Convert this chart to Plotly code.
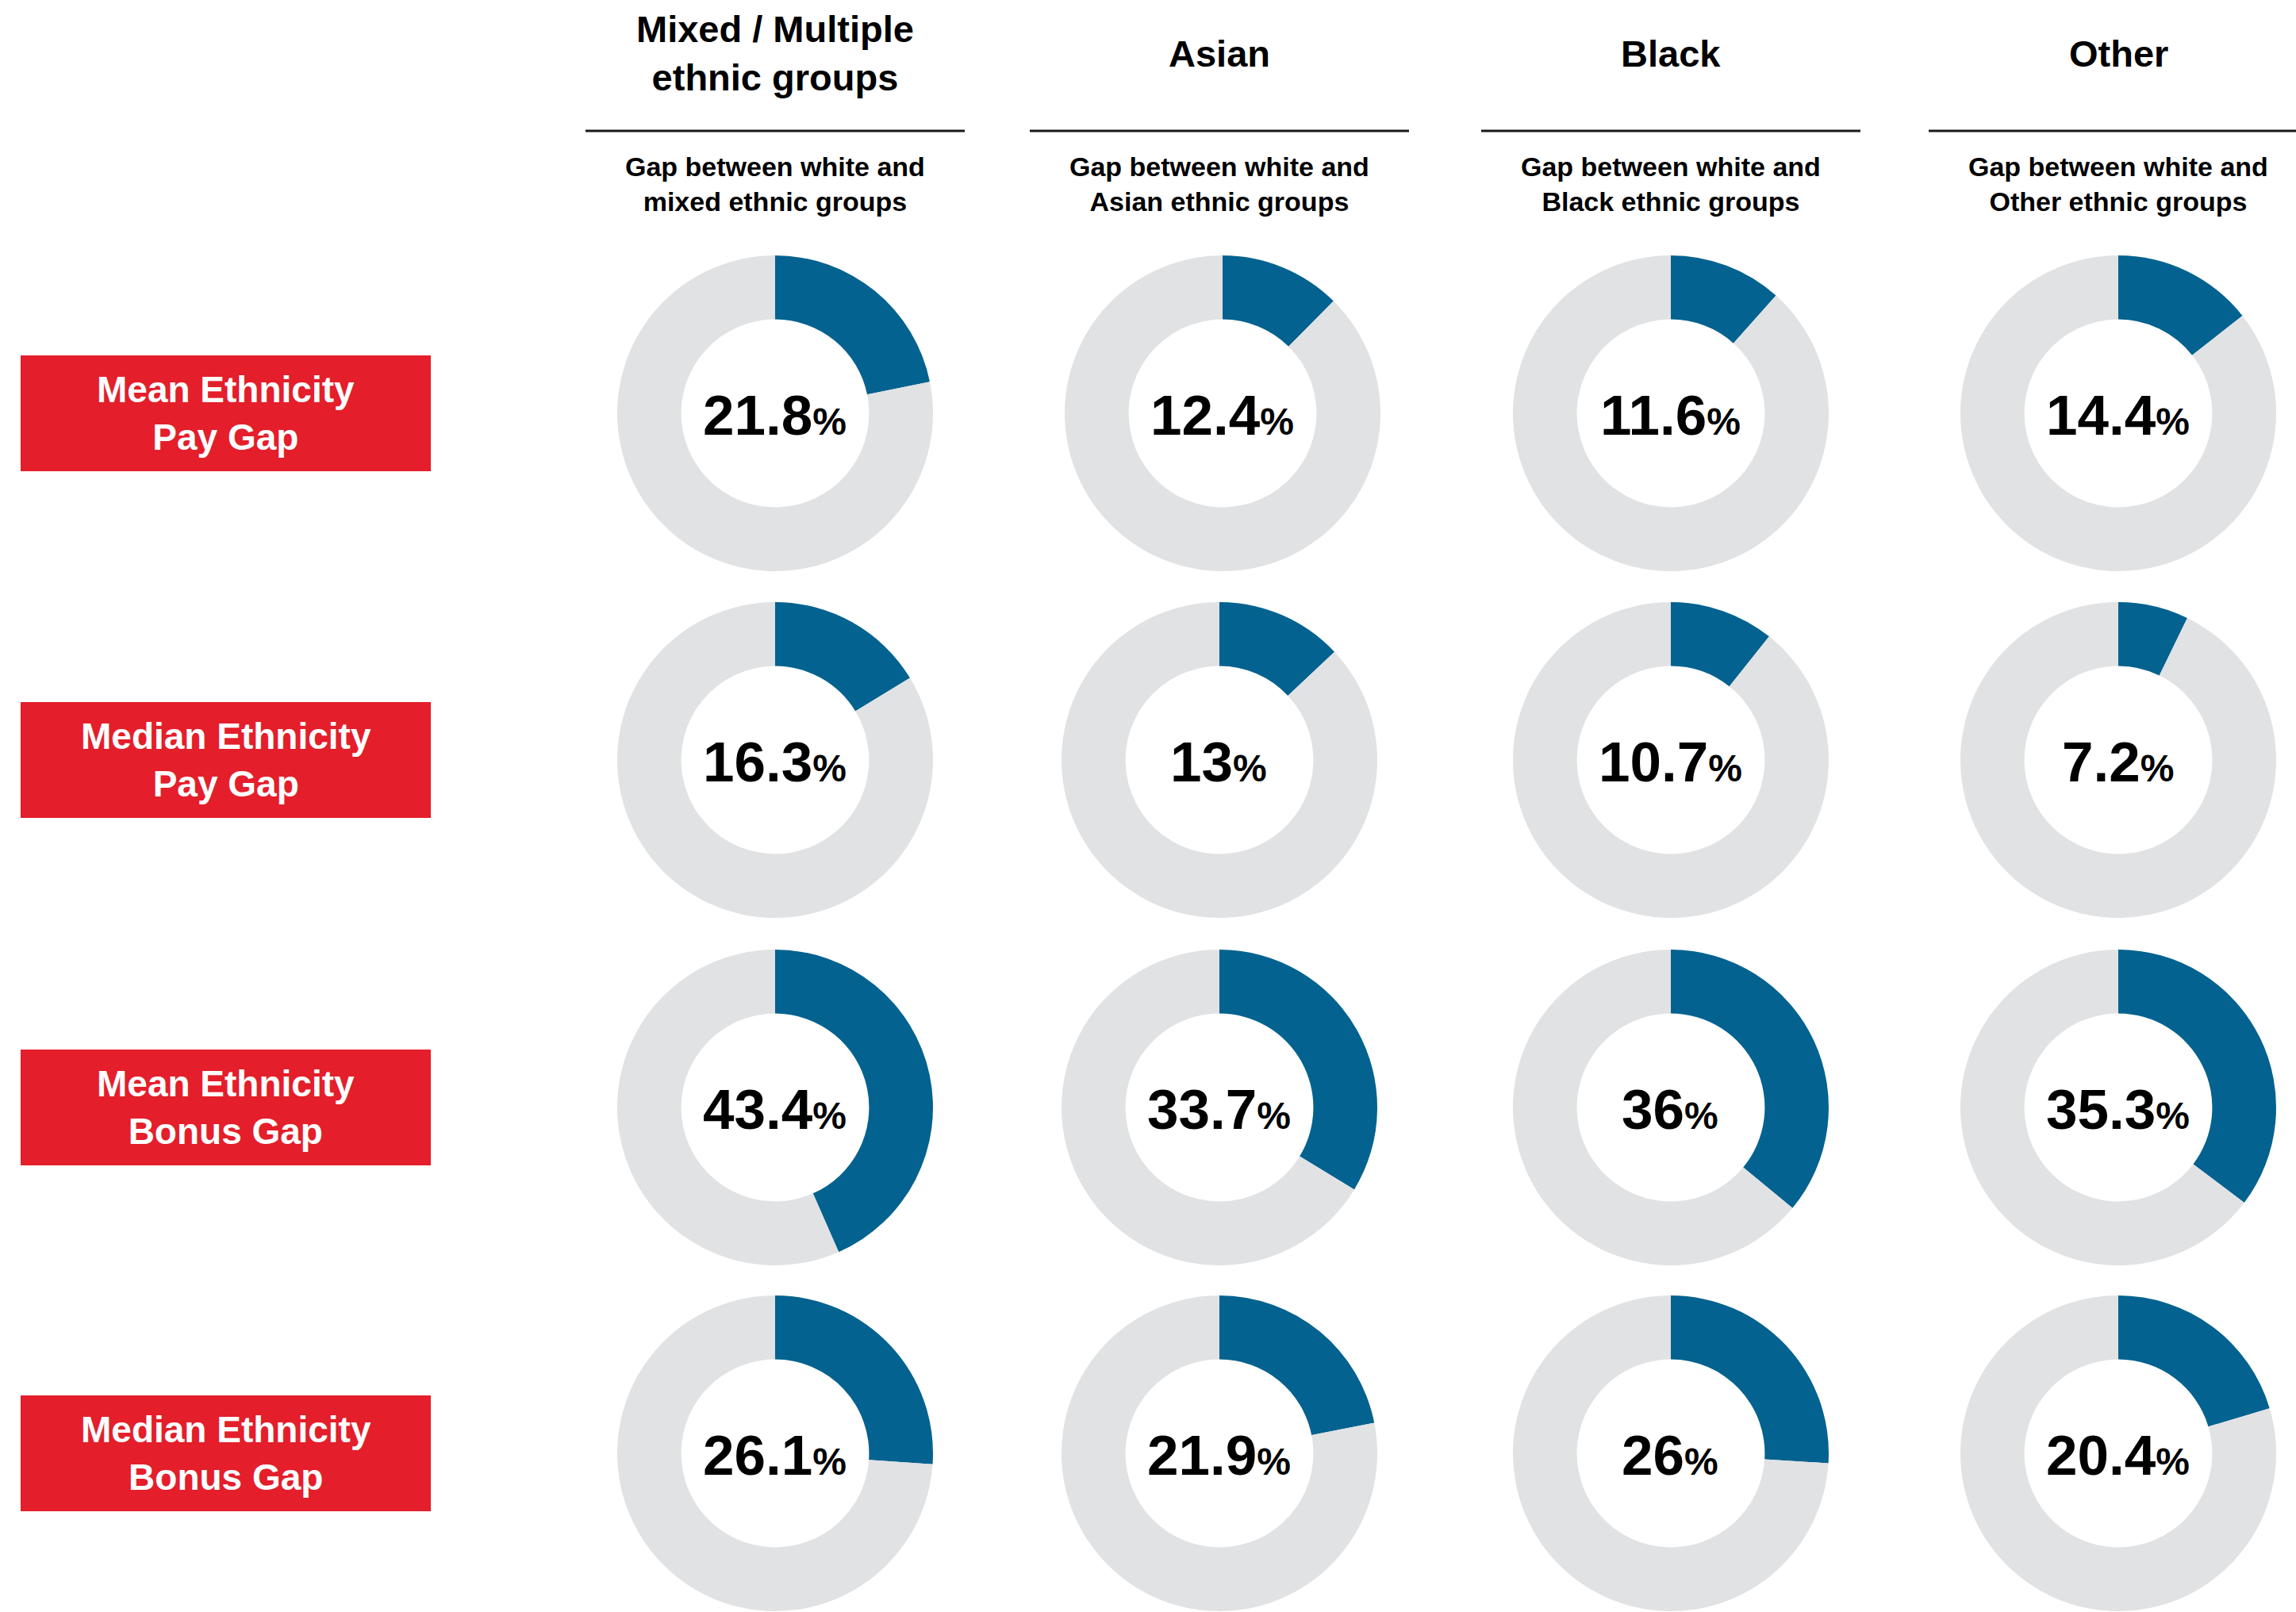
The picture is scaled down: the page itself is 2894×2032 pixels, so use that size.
import plotly.graph_objects as go

# ---- data -------------------------------------------------------------
groups = ["Mixed / Multiple<br>ethnic groups", "Asian", "Black", "Other"]
subtitles = [
    "Gap between white and<br>mixed ethnic groups",
    "Gap between white and<br>Asian ethnic groups",
    "Gap between white and<br>Black ethnic groups",
    "Gap between white and<br>Other ethnic groups",
]
measures = [
    "Mean Ethnicity<br>Pay Gap",
    "Median Ethnicity<br>Pay Gap",
    "Mean Ethnicity<br>Bonus Gap",
    "Median Ethnicity<br>Bonus Gap",
]

# gap (%) per measure (rows) for each ethnic group
mixed = [21.8, 16.3, 43.4, 26.1]
asian = [12.4, 13, 33.7, 21.9]
black = [11.6, 10.7, 36, 26]
other = [14.4, 7.2, 35.3, 20.4]
gaps = [mixed, asian, black, other]

# ---- layout constants (pixels) ---------------------------------------
W, H = 2894, 2032
col_x = [977, 1537, 2106, 2670]
row_y = [521, 958, 1396, 1832]
x_nudge = {(0, 1): 4}          # row, col -> small horizontal shift
R = 199
HOLE = 0.595
BLUE = "#03628F"
GREY = "#E1E2E4"
RED = "#E41E2A"
FONT = "'Liberation Sans', Arial, Helvetica, sans-serif"


def px(x):
    return x / W


def py(y):
    return 1 - y / H


fig = go.Figure()
annotations = []
shapes = []

for c, series in enumerate(gaps):
    for r, v in enumerate(series):
        cx = col_x[c] + x_nudge.get((r, c), 0)
        cy = row_y[r]
        fig.add_trace(go.Pie(
            values=[v, 100 - v],
            labels=["gap", "rest"],
            marker=dict(colors=[BLUE, GREY], line=dict(width=0)),
            hole=HOLE,
            sort=False,
            direction="clockwise",
            rotation=0,
            textinfo="none",
            hoverinfo="skip",
            showlegend=False,
            domain=dict(x=[px(cx - R), px(cx + R)],
                        y=[py(cy + R), py(cy - R)]),
        ))
        annotations.append(dict(
            x=px(cx - 1), y=py(cy + 2), xref="paper", yref="paper",
            text=f"<b>{v:g}<span style='font-size:48px'>%</span></b>",
            showarrow=False, xanchor="center", yanchor="middle",
            font=dict(family=FONT, size=71, color="#000000"),
        ))

# column headers, rules and subtitles
for c in range(len(groups)):
    cx = col_x[c]
    annotations.append(dict(
        x=px(cx), y=py(67), xref="paper", yref="paper",
        text=f"<b>{groups[c]}</b>", showarrow=False,
        xanchor="center", yanchor="middle",
        font=dict(family=FONT, size=47, color="#000000"),
    ))
    annotations.append(dict(
        x=px(cx), y=py(232), xref="paper", yref="paper",
        text=f"<b>{subtitles[c]}</b>", showarrow=False,
        xanchor="center", yanchor="middle",
        font=dict(family=FONT, size=34, color="#000000"),
    ))
    shapes.append(dict(
        type="line", xref="paper", yref="paper",
        x0=px(cx - 239), x1=px(cx + 239), y0=py(165), y1=py(165),
        line=dict(color="#1a1a1a", width=3),
    ))

# row labels in red boxes
for r in range(len(measures)):
    cy = row_y[r]
    shapes.append(dict(
        type="rect", xref="paper", yref="paper",
        x0=px(26), x1=px(543), y0=py(cy + 73), y1=py(cy - 73),
        fillcolor=RED, line=dict(width=0), layer="below",
    ))
    annotations.append(dict(
        x=px(284.5), y=py(cy), xref="paper", yref="paper",
        text=f"<b>{measures[r]}</b>", showarrow=False,
        xanchor="center", yanchor="middle",
        font=dict(family=FONT, size=46, color="#FFFFFF"),
    ))

fig.update_layout(
    width=W, height=H,
    margin=dict(l=0, r=0, t=0, b=0),
    paper_bgcolor="#FFFFFF",
    plot_bgcolor="#FFFFFF",
    annotations=annotations,
    shapes=shapes,
    showlegend=False,
)

fig.write_html("out.html")
